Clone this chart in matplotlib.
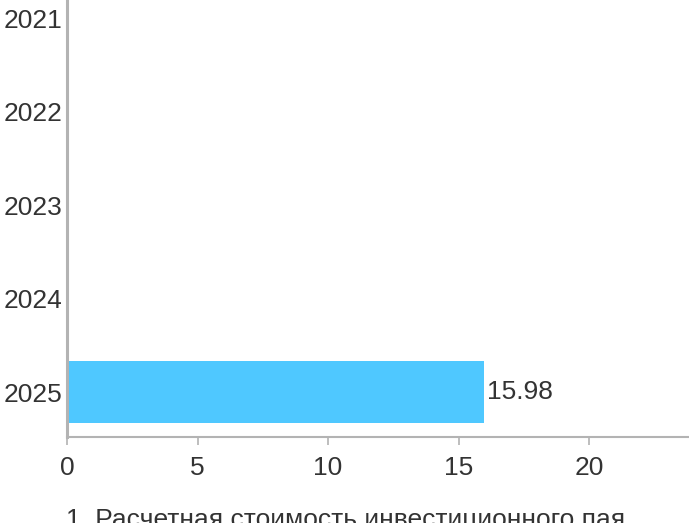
import matplotlib.pyplot as plt

# data
years = ['2021', '2022', '2023', '2024', '2025']
values = [None, None, None, None, 15.98]
legend_text = '1. Расчетная стоимость инвестиционного пая'

bar_color = '#4FC8FF'
axis_color = '#B3B3B3'
text_color = '#333333'

plt.rcParams['font.family'] = ['Liberation Sans', 'DejaVu Sans']

fig = plt.figure(figsize=(6.89, 5.23), dpi=100)
# axes deliberately runs past the top and right of the figure (cropped view)
ax = fig.add_axes([67 / 689, 86 / 523, 652.5 / 689, 465.75 / 523])

pos = list(range(len(years)))
for i, v in zip(pos, values):
    if v is None:
        continue
    ax.barh(i, v, height=0.67, color=bar_color, zorder=2)
    ax.text(v + 0.1, i, f'{v:.2f}', va='center', ha='left',
            fontsize=19, color=text_color)

ax.set_ylim(4.48, -0.5)
ax.set_xlim(0, 25)
ax.set_yticks(pos)
ax.set_yticklabels(years)
ax.set_xticks([0, 5, 10, 15, 20])

ax.spines['top'].set_visible(False)
ax.spines['right'].set_visible(False)
ax.spines['left'].set_color(axis_color)
ax.spines['left'].set_linewidth(2.2)
ax.spines['left'].set_zorder(3)
ax.spines['bottom'].set_color(axis_color)
ax.spines['bottom'].set_linewidth(1.5)

ax.tick_params(axis='y', length=0, pad=3, labelsize=19, labelcolor=text_color)
ax.tick_params(axis='x', length=6, width=1.2, color=axis_color, pad=8,
               labelsize=19, labelcolor=text_color)

fig.text(66 / 689, 0.028, legend_text, ha='left', va='top',
         fontsize=19, color=text_color)

fig.savefig('out.png', dpi=100)
